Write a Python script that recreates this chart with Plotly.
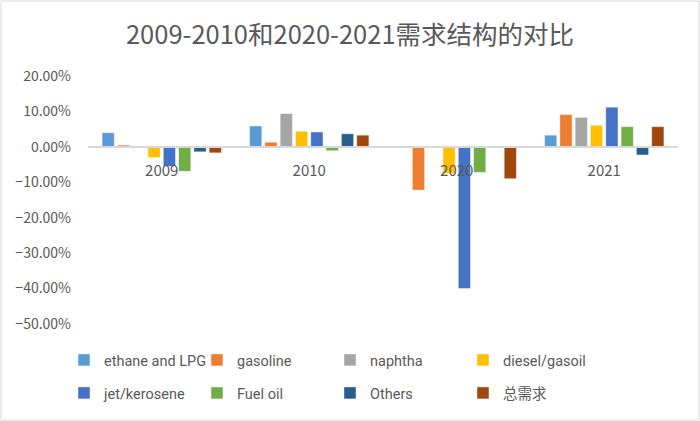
import plotly.graph_objects as go

years = ["2009", "2010", "2020", "2021"]

ethane_lpg = [0.040, 0.059, 0.0, 0.033]
gasoline = [0.005, 0.013, -0.122, 0.091]
naphtha = [0.0, 0.094, 0.0, 0.083]
diesel_gasoil = [-0.030, 0.044, -0.075, 0.061]
jet_kerosene = [-0.055, 0.042, -0.400, 0.112]
fuel_oil = [-0.069, -0.011, -0.072, 0.057]
others = [-0.014, 0.037, 0.0, -0.023]
total = [-0.017, 0.033, -0.090, 0.057]

series = [
    ("ethane and LPG", ethane_lpg, "#5B9BD5", "legend"),
    ("gasoline", gasoline, "#ED7D31", "legend"),
    ("naphtha", naphtha, "#A5A5A5", "legend"),
    ("diesel/gasoil", diesel_gasoil, "#FFC000", "legend"),
    ("jet/kerosene", jet_kerosene, "#4472C4", "legend2"),
    ("Fuel oil", fuel_oil, "#70AD47", "legend2"),
    ("Others", others, "#255E91", "legend2"),
    ("总需求", total, "#9E480E", "legend2"),
]

font = "Noto Sans CJK SC"
grey = "#595959"

fig = go.Figure()
for name, vals, col, lg in series:
    fig.add_trace(go.Bar(x=years, y=vals, name=name, marker_color=col,
                         marker_line=dict(color="rgba(255,255,255,0.45)", width=1),
                         legend=lg))

# plot area: l=88, r=22, t=76, b=97 -> 590 x 248 px
W, H, L, B = 700, 421, 88, 97
pw, ph = W - L - 22, H - 76 - B

leg = dict(orientation="h", xanchor="left", yanchor="middle", x=-0.0407,
           font=dict(family="Roboto, Noto Sans CJK SC", size=14.5, color=grey),
           entrywidth=88, entrywidthmode="pixels", itemwidth=30,
           bgcolor="rgba(0,0,0,0)")

fig.update_layout(
    width=W, height=H,
    margin=dict(l=L, r=22, t=76, b=B),
    paper_bgcolor="white", plot_bgcolor="white",
    font=dict(family=font, color=grey),
    title=dict(text="2009-2010和2020-2021需求结构的对比", x=0.5, xanchor="center",
               y=0.917, yanchor="middle", font=dict(size=25.5, color=grey)),
    barmode="group", bargap=0.17, bargroupgap=0.2,
    showlegend=True,
    legend=dict(leg, y=(324 - 360) / ph),
    legend2=dict(leg, y=(324 - 393) / ph),
    xaxis=dict(anchor="free", position=0.5 / 0.7, showline=True,
               linecolor="#D9D9D9", linewidth=1.5, ticks="",
               tickfont=dict(size=15, color=grey), showgrid=False,
               ticklabelstandoff=10),
    yaxis=dict(range=[-0.5, 0.2], dtick=0.1, tickformat=".2%",
               showgrid=False, zeroline=False, showline=False,
               tickfont=dict(size=14, color=grey), ticklabelstandoff=16),
    shapes=[dict(type="rect", xref="paper", yref="paper",
                 x0=(1 - L) / pw, x1=(699 - L) / pw,
                 y0=(324 - 420) / ph, y1=(324 - 1) / ph,
                 line=dict(color="#D9D9D9", width=1), layer="below")],
)

fig.write_html("out.html", config={"displayModeBar": False},
               post_script="document.body.style.margin='0';")
